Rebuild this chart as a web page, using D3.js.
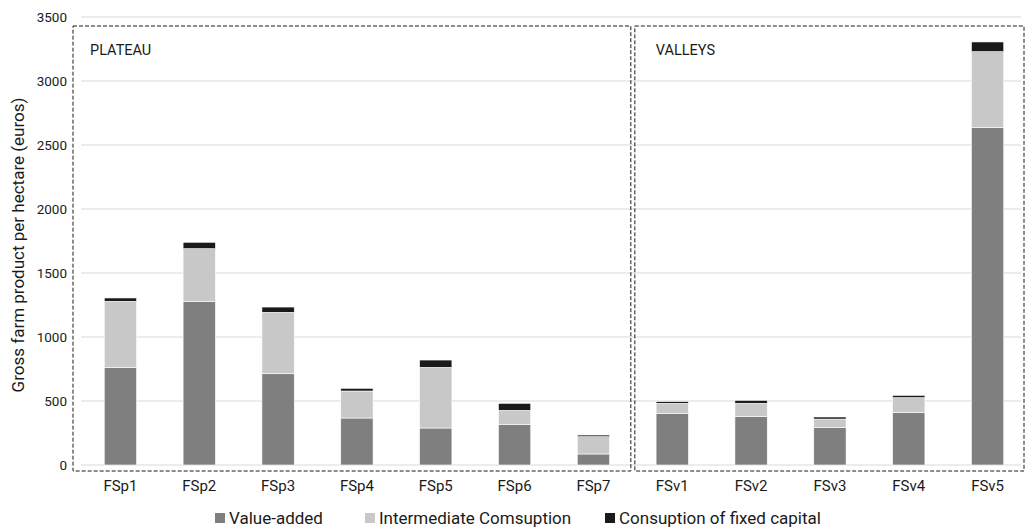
<!DOCTYPE html>
<html>
<head>
<meta charset="utf-8">
<script src="https://d3js.org/d3.v7.min.js"></script>
<style>
  body { margin: 0; background: #fff; }
  text { font-family: Roboto, sans-serif; fill: #1a1a1a; }
</style>
</head>
<body>
<div id="chart"></div>
<script>
const categories = ['FSp1', 'FSp2', 'FSp3', 'FSp4', 'FSp5', 'FSp6', 'FSp7', 'FSv1', 'FSv2', 'FSv3', 'FSv4', 'FSv5'];
const valueAdded = [763, 1279, 713, 367, 289, 315, 86, 404, 378, 294, 409, 2638];
const intermediate = [516, 411, 480, 211, 474, 112, 135, 78, 104, 65, 117, 591];
const fixedCapital = [26, 50, 41, 21, 57, 55, 13, 13, 23, 16, 18, 76];
const seriesNames = ['Value-added', 'Intermediate Comsuption', 'Consuption of fixed capital'];
const yTicks = [0, 500, 1000, 1500, 2000, 2500, 3000, 3500];
const groups = [
  {name: 'PLATEAU', first: 'FSp1', last: 'FSp7'},
  {name: 'VALLEYS', first: 'FSv1', last: 'FSv5'}
];

const WIDTH = 1029;
const HEIGHT = 527;
const colors = ['#7f7f7f', '#c8c8c8', '#1a1a1a'];

const svg = d3.select('#chart')
  .append('svg')
  .attr('width', WIDTH)
  .attr('height', HEIGHT);

const xScale = d3.scaleBand()
  .domain(categories)
  .range([81, 1027])
  .paddingInner(0.59)
  .paddingOuter(0.295);

const yScale = d3.scaleLinear()
  .domain([0, 3500])
  .range([465, 17]);

// gridlines
svg.append('g')
  .selectAll('line')
  .data(yTicks)
  .enter()
  .append('line')
  .attr('x1', 81)
  .attr('x2', 1021)
  .attr('y1', d => yScale(d))
  .attr('y2', d => yScale(d))
  .attr('stroke', '#d9d9d9')
  .attr('stroke-width', 1);

// y axis (labels only)
const yAxis = d3.axisLeft(yScale).tickValues(yTicks).tickFormat(d3.format('d')).tickSize(0).tickPadding(0);
const yAx = svg.append('g')
  .attr('transform', 'translate(67, 0)')
  .call(yAxis);
yAx.select('.domain').remove();
yAx.selectAll('text')
  .style('font-family', 'Roboto, sans-serif')
  .style('font-size', '13.5px')
  .attr('fill', '#1a1a1a');

// stacked bars
const table = categories.map((c, i) => ({cat: c, va: valueAdded[i], ic: intermediate[i], cfc: fixedCapital[i]}));
const stack = d3.stack().keys(['va', 'ic', 'cfc'])(table);

svg.append('g')
  .selectAll('g')
  .data(stack)
  .enter()
  .append('g')
  .attr('fill', (d, i) => colors[i])
  .selectAll('rect')
  .data(d => d)
  .enter()
  .append('rect')
  .attr('x', d => xScale(d.data.cat))
  .attr('width', xScale.bandwidth())
  .attr('y', d => yScale(d[1]))
  .attr('height', d => yScale(d[0]) - yScale(d[1]))
  .attr('stroke', '#ffffff')
  .attr('stroke-width', 0.6);

// x axis labels
const xAxis = d3.axisBottom(xScale).tickSize(0).tickPadding(0);
const xAx = svg.append('g')
  .attr('transform', 'translate(0, 480)')
  .call(xAxis);
xAx.select('.domain').remove();
xAx.selectAll('text')
  .style('font-family', 'Roboto, sans-serif')
  .style('font-size', '15px')
  .attr('fill', '#1a1a1a');

// dashed group boxes
const step = xScale.step();
const boxLeft = g => g.first === categories[0] ? 73 : xScale(g.first) - step * 0.295 + 2;
const boxRight = g => g.last === categories[categories.length - 1] ? 1024 : xScale(g.last) + xScale.bandwidth() + step * 0.295 - 2;

svg.append('g')
  .selectAll('rect')
  .data(groups)
  .enter()
  .append('rect')
  .attr('x', d => boxLeft(d))
  .attr('y', 26)
  .attr('width', d => boxRight(d) - boxLeft(d))
  .attr('height', 445)
  .attr('fill', 'none')
  .attr('stroke', '#1a1a1a')
  .attr('stroke-width', 1)
  .attr('stroke-dasharray', '4,2');

svg.append('g')
  .selectAll('text')
  .data(groups)
  .enter()
  .append('text')
  .attr('x', (d, i) => boxLeft(d) + (i === 0 ? 17 : 21))
  .attr('y', 55)
  .style('font-size', '14.5px')
  .text(d => d.name);

// y axis title
svg.append('text')
  .attr('transform', 'rotate(-90)')
  .attr('x', -245)
  .attr('y', 24)
  .attr('text-anchor', 'middle')
  .style('font-size', '17px')
  .text('Gross farm product per hectare (euros)');

// legend
const legendX = [215, 365, 605];
const legend = svg.append('g')
  .selectAll('g')
  .data(seriesNames)
  .enter()
  .append('g')
  .attr('transform', (d, i) => `translate(${legendX[i]}, 518)`);

legend.append('rect')
  .attr('x', 0)
  .attr('y', -5)
  .attr('width', 10)
  .attr('height', 10)
  .attr('fill', (d, i) => colors[i]);

legend.append('text')
  .attr('x', 14)
  .attr('y', 6)
  .style('font-size', '17px')
  .text(d => d);
</script>
</body>
</html>
